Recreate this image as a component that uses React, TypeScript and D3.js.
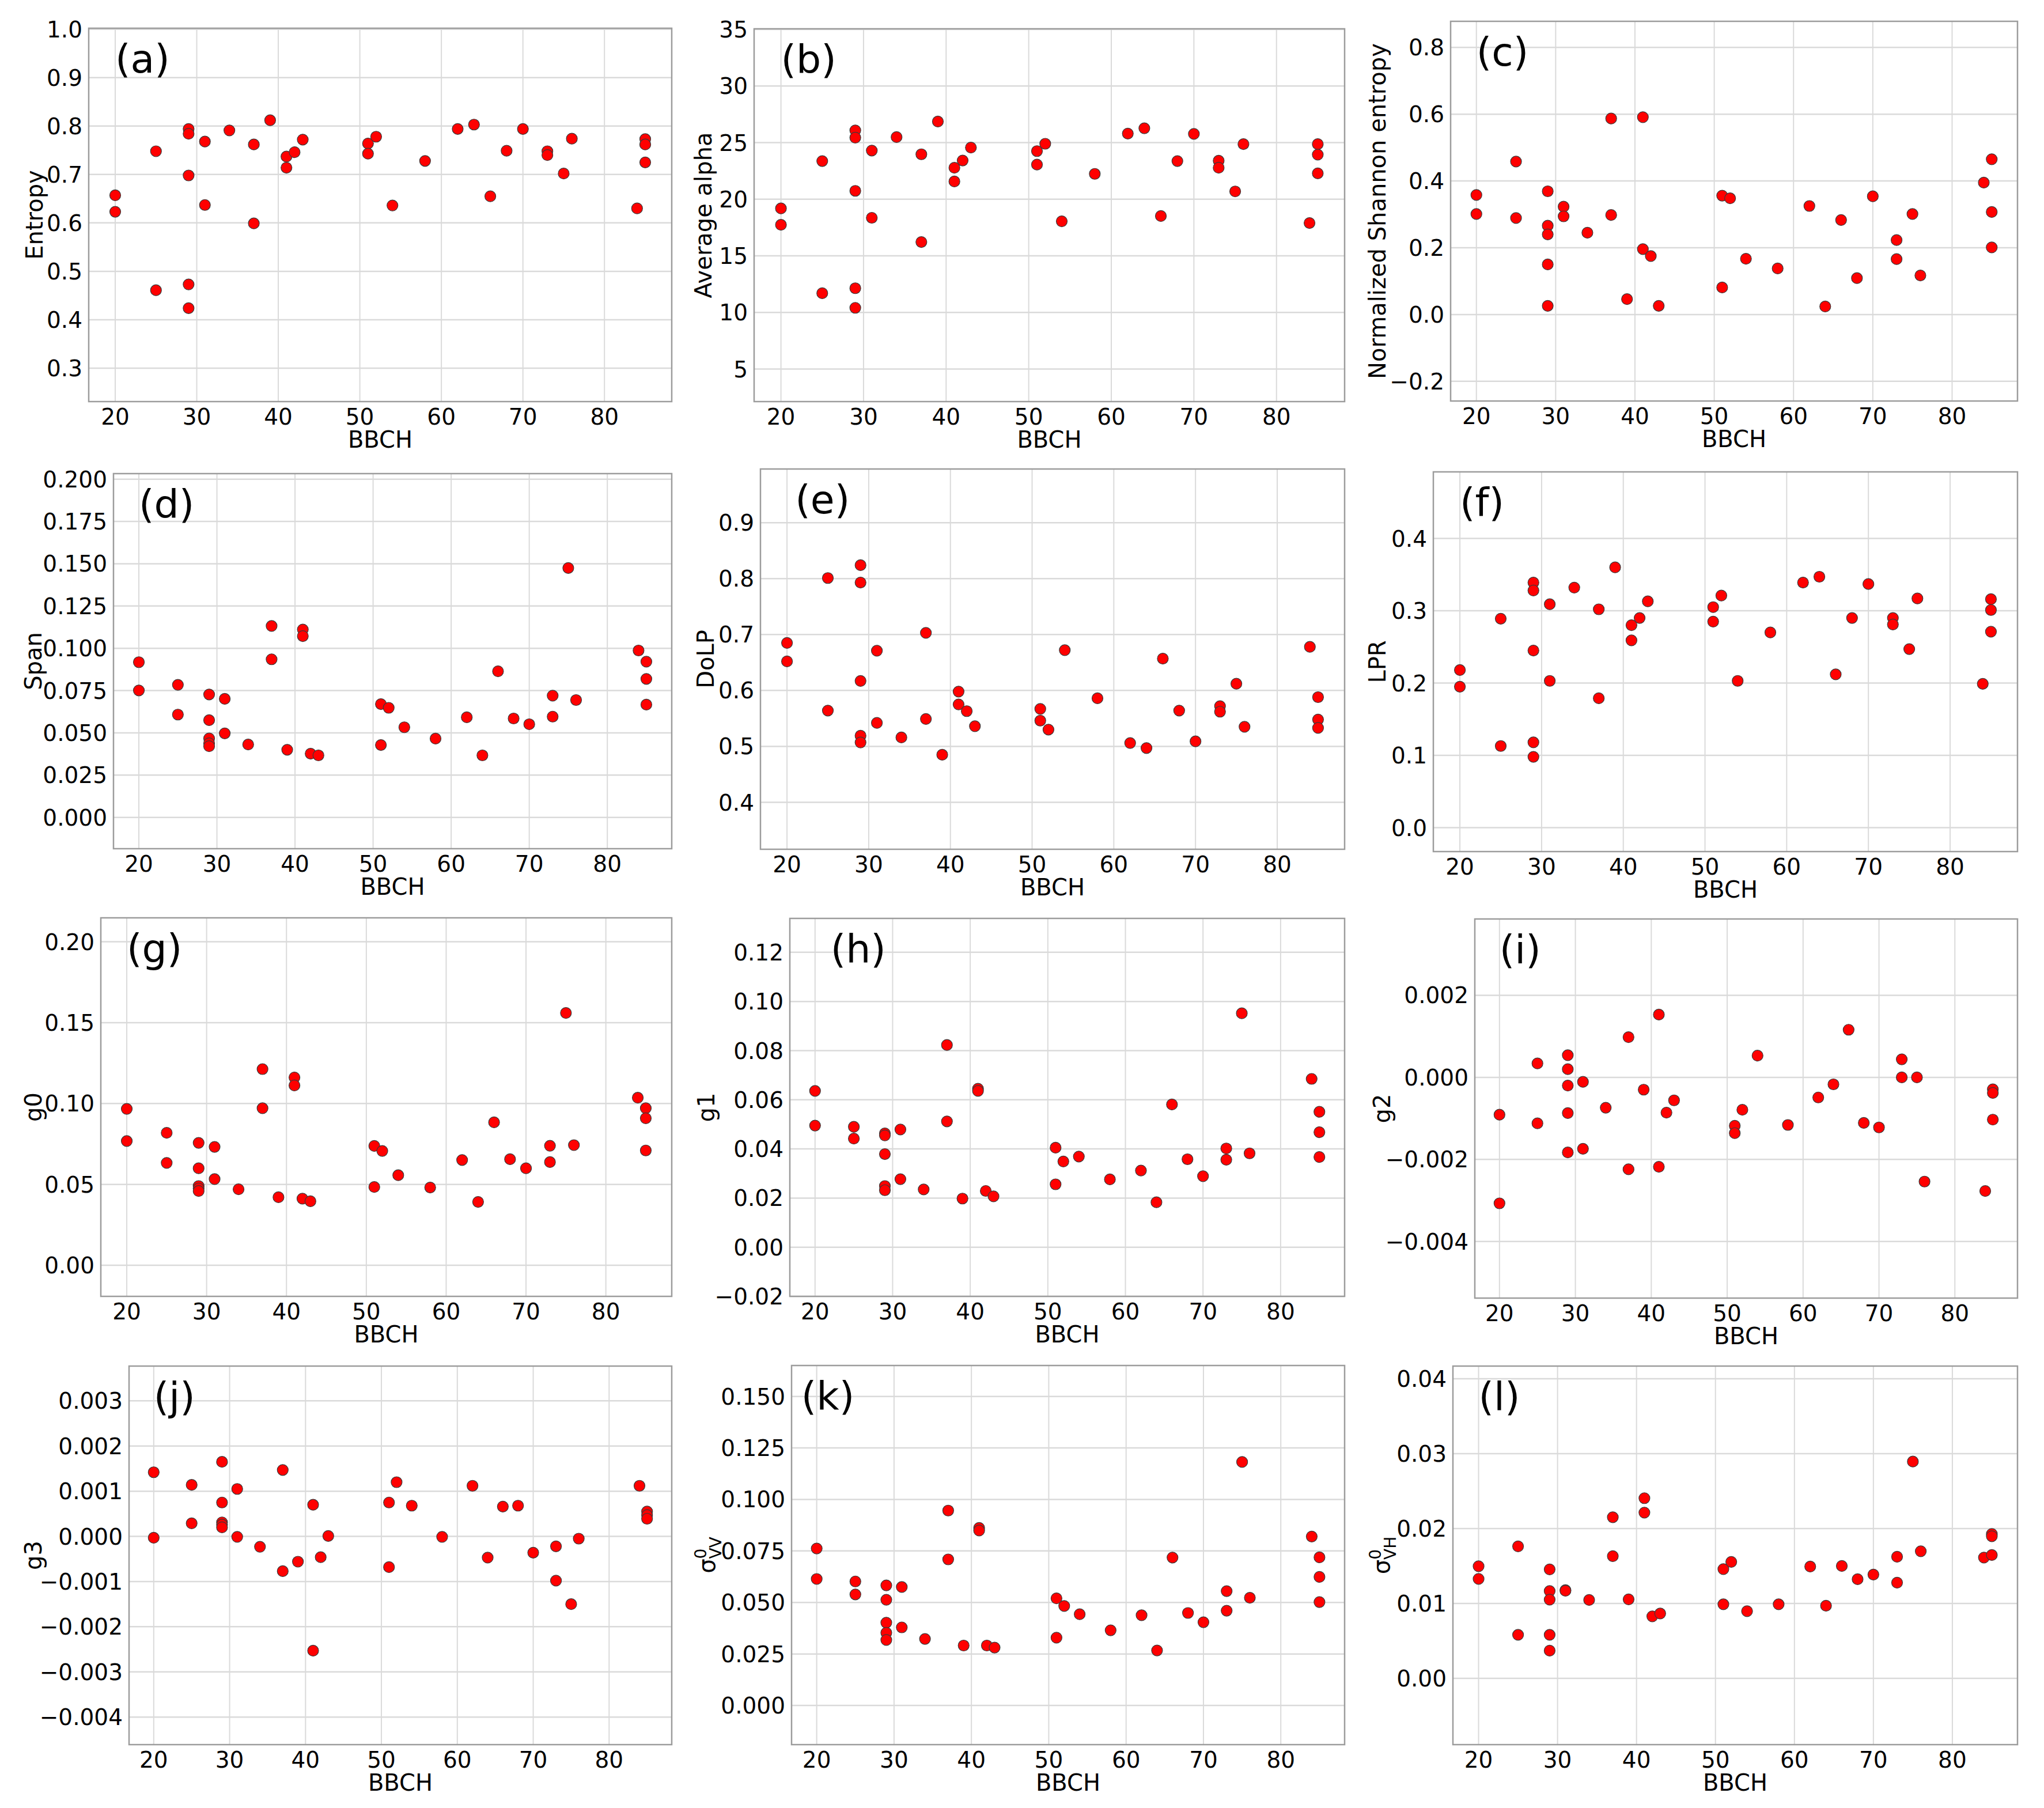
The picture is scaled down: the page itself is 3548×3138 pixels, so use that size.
import React, { useEffect, useRef } from "react";
import * as d3 from "d3";

// BBCH stage of each sample (shared by all panels)
const bbch = [20, 20, 25, 25, 29, 29, 29, 29, 29, 31, 31, 34, 37, 37, 39, 41, 41, 42, 43, 51, 51, 52, 54, 58, 62, 64, 66, 68, 70, 73, 73, 75, 76, 84, 85, 85, 85];

const entropy = [0.657, 0.623, 0.748, 0.461, 0.794, 0.784, 0.698, 0.473, 0.424, 0.768, 0.637, 0.791, 0.762, 0.599, 0.812, 0.737, 0.714, 0.746, 0.772, 0.764, 0.743, 0.778, 0.636, 0.728, 0.794, 0.803, 0.655, 0.749, 0.794, 0.748, 0.74, 0.702, 0.774, 0.63, 0.773, 0.762, 0.725];
const alpha = [19.19, 17.74, 23.37, 11.7, 26.08, 25.44, 20.74, 12.14, 10.41, 24.3, 18.36, 25.49, 23.97, 16.22, 26.86, 22.78, 21.57, 23.42, 24.56, 24.25, 23.06, 24.9, 18.05, 22.24, 25.8, 26.27, 18.52, 23.37, 25.77, 23.4, 22.78, 20.69, 24.87, 17.9, 24.87, 23.94, 22.29];
const shannon = [0.358, 0.301, 0.458, 0.289, 0.369, 0.266, 0.24, 0.15, 0.026, 0.323, 0.294, 0.245, 0.587, 0.298, 0.046, 0.591, 0.196, 0.175, 0.026, 0.356, 0.081, 0.348, 0.167, 0.138, 0.325, 0.024, 0.283, 0.109, 0.354, 0.223, 0.166, 0.301, 0.117, 0.395, 0.465, 0.307, 0.201];
const span = [0.0918, 0.0751, 0.0784, 0.0608, 0.0727, 0.0575, 0.0467, 0.0438, 0.0421, 0.0701, 0.0497, 0.0431, 0.1132, 0.0935, 0.04, 0.1111, 0.1072, 0.0377, 0.0367, 0.067, 0.0428, 0.0648, 0.0533, 0.0466, 0.0592, 0.0367, 0.0864, 0.0585, 0.0551, 0.072, 0.0596, 0.1475, 0.0694, 0.0987, 0.0921, 0.0819, 0.0667];
const dolp = [0.685, 0.652, 0.801, 0.564, 0.824, 0.793, 0.617, 0.519, 0.507, 0.671, 0.542, 0.516, 0.703, 0.549, 0.485, 0.598, 0.575, 0.563, 0.536, 0.567, 0.546, 0.53, 0.672, 0.586, 0.506, 0.497, 0.657, 0.564, 0.509, 0.572, 0.562, 0.612, 0.535, 0.678, 0.588, 0.548, 0.533];
const lpr = [0.218, 0.195, 0.289, 0.113, 0.339, 0.328, 0.245, 0.118, 0.098, 0.309, 0.203, 0.332, 0.302, 0.179, 0.36, 0.28, 0.259, 0.29, 0.313, 0.305, 0.285, 0.321, 0.203, 0.27, 0.339, 0.347, 0.212, 0.29, 0.337, 0.29, 0.281, 0.247, 0.317, 0.199, 0.316, 0.301, 0.271];
const g0 = [0.0967, 0.0768, 0.0819, 0.0633, 0.0757, 0.06, 0.049, 0.0475, 0.0459, 0.0732, 0.0533, 0.047, 0.1213, 0.0971, 0.0421, 0.1161, 0.1112, 0.0412, 0.0396, 0.0738, 0.0484, 0.0707, 0.0557, 0.0481, 0.0651, 0.0392, 0.0884, 0.0656, 0.06, 0.0739, 0.0638, 0.156, 0.0743, 0.1036, 0.0971, 0.0909, 0.071];
const g1 = [0.0636, 0.0495, 0.049, 0.0442, 0.0463, 0.0455, 0.0379, 0.0249, 0.0232, 0.0479, 0.0277, 0.0235, 0.0823, 0.0512, 0.0198, 0.0645, 0.0636, 0.0229, 0.0207, 0.0405, 0.0256, 0.0349, 0.0369, 0.0276, 0.0312, 0.0183, 0.0581, 0.0358, 0.0289, 0.0402, 0.0356, 0.0952, 0.0382, 0.0685, 0.0551, 0.0468, 0.0367];
const g2 = [-0.00091, -0.00307, 0.00034, -0.00112, 0.00054, 0.0002, -0.0002, -0.00087, -0.00183, -0.00011, -0.00174, -0.00074, 0.00098, -0.00224, -0.0003, 0.00153, -0.00218, -0.00086, -0.00056, -0.00118, -0.00136, -0.00079, 0.00053, -0.00116, -0.00049, -0.00017, 0.00116, -0.00111, -0.00122, 0.00044, 0.0, 0.0, -0.00254, -0.00277, -0.00029, -0.00038, -0.00103];
const g3 = [0.00142, -0.00003, 0.00114, 0.00029, 0.00165, 0.00075, 0.00031, 0.00026, 0.0002, 0.00105, -0.00001, -0.00023, 0.00147, -0.00077, -0.00056, 0.0007, -0.00253, -0.00046, 0.00001, 0.00075, -0.00068, 0.0012, 0.00068, -0.00001, 0.00112, -0.00047, 0.00066, 0.00068, -0.00036, -0.00022, -0.00098, -0.0015, -0.00005, 0.00112, 0.00055, 0.00047, 0.00039];
const sigmaVV = [0.0762, 0.0614, 0.0602, 0.0539, 0.0583, 0.0513, 0.0402, 0.0353, 0.0318, 0.0575, 0.0379, 0.0323, 0.0946, 0.0709, 0.0291, 0.0862, 0.0849, 0.0291, 0.0281, 0.052, 0.0329, 0.0483, 0.0443, 0.0365, 0.0438, 0.0267, 0.0718, 0.0449, 0.0404, 0.0555, 0.046, 0.1182, 0.0523, 0.082, 0.0719, 0.0624, 0.0502];
const sigmaVH = [0.01497, 0.01328, 0.01763, 0.00581, 0.01455, 0.01166, 0.01051, 0.00581, 0.0037, 0.01178, 0.0117, 0.01047, 0.02152, 0.01632, 0.01055, 0.02406, 0.02213, 0.00828, 0.00866, 0.01459, 0.00989, 0.01555, 0.00897, 0.00989, 0.01493, 0.0097, 0.01501, 0.01324, 0.01386, 0.01624, 0.01278, 0.02895, 0.01697, 0.01613, 0.01928, 0.01898, 0.01647];

// tick labels
const xTicks = [20, 30, 40, 50, 60, 70, 80];
const entropyTicks = [0.3, 0.4, 0.5, 0.6, 0.7, 0.8, 0.9, 1.0];
const alphaTicks = [5, 10, 15, 20, 25, 30, 35];
const shannonTicks = [-0.2, 0, 0.2, 0.4, 0.6, 0.8];
const spanTicks = [0, 0.025, 0.05, 0.075, 0.1, 0.125, 0.15, 0.175, 0.2];
const dolpTicks = [0.4, 0.5, 0.6, 0.7, 0.8, 0.9];
const lprTicks = [0, 0.1, 0.2, 0.3, 0.4];
const g0Ticks = [0, 0.05, 0.1, 0.15, 0.2];
const g1Ticks = [-0.02, 0, 0.02, 0.04, 0.06, 0.08, 0.1, 0.12];
const g2Ticks = [-0.004, -0.002, 0, 0.002];
const g3Ticks = [-0.004, -0.003, -0.002, -0.001, 0, 0.001, 0.002, 0.003];
const sigmaVVTicks = [0, 0.025, 0.05, 0.075, 0.1, 0.125, 0.15];
const sigmaVHTicks = [0, 0.01, 0.02, 0.03, 0.04];

const W = 3548;
const H = 3138;
const FONT = "'DejaVu Sans', sans-serif";

// box = [left, top, right, bottom] of each axes frame in px
const panels: any[] = [
  { tag: "(a)", ylabel: "Entropy", values: entropy, domain: [0.231, 1.002], ticks: entropyTicks, fmt: ".1f", box: [154, 49, 1166, 697], ylabelX: 60, tagX: 20 },
  { tag: "(b)", ylabel: "Average alpha", values: alpha, domain: [2.13, 35.05], ticks: alphaTicks, fmt: "d", box: [1309, 50, 2334, 697], ylabelX: 1221, tagX: 20 },
  { tag: "(c)", ylabel: "Normalized Shannon entropy", values: shannon, domain: [-0.259, 0.878], ticks: shannonTicks, fmt: ".1f", box: [2518, 37, 3502, 696], ylabelX: 2391, tagX: 20 },
  { tag: "(d)", ylabel: "Span", values: span, domain: [-0.0185, 0.2033], ticks: spanTicks, fmt: ".3f", box: [197, 822, 1166, 1473], ylabelX: 58, tagX: 20 },
  { tag: "(e)", ylabel: "DoLP", values: dolp, domain: [0.316, 0.996], ticks: dolpTicks, fmt: ".1f", box: [1320, 814, 2334, 1474], ylabelX: 1225, tagX: 21 },
  { tag: "(f)", ylabel: "LPR", values: lpr, domain: [-0.033, 0.492], ticks: lprTicks, fmt: ".1f", box: [2488, 819, 3502, 1478], ylabelX: 2391, tagX: 20 },
  { tag: "(g)", ylabel: "g0", values: g0, domain: [-0.0192, 0.2148], ticks: g0Ticks, fmt: ".2f", box: [175, 1593, 1166, 2250], ylabelX: 58, tagX: 20 },
  { tag: "(h)", ylabel: "g1", values: g1, domain: [-0.02, 0.1338], ticks: g1Ticks, fmt: ".2f", box: [1371, 1594, 2334, 2250], ylabelX: 1226, tagX: 22 },
  { tag: "(i)", ylabel: "g2", values: g2, domain: [-0.00538, 0.00386], ticks: g2Ticks, fmt: ".3f", box: [2560, 1595, 3502, 2253], ylabelX: 2399, tagX: 20 },
  { tag: "(j)", ylabel: "g3", values: g3, domain: [-0.00461, 0.00377], ticks: g3Ticks, fmt: ".3f", box: [224, 2371, 1166, 3028], ylabelX: 58, tagX: 20 },
  { tag: "(k)", ylabel: "VV", values: sigmaVV, domain: [-0.019, 0.165], ticks: sigmaVVTicks, fmt: ".3f", box: [1374, 2370, 2334, 3028], ylabelX: 1227, tagX: 18, sigma: true },
  { tag: "(l)", ylabel: "VH", values: sigmaVH, domain: [-0.00885, 0.0417], ticks: sigmaVHTicks, fmt: ".2f", box: [2522, 2371, 3502, 3028], ylabelX: 2398, tagX: 20, sigma: true },
];

const App = () => {
  const ref = useRef(null);

  useEffect(() => {
    const svg = d3.select(ref.current);
    svg.selectAll("*").remove();
    svg.append("rect").attr("width", W).attr("height", H).attr("fill", "#fff");

    panels.forEach((p: any) => {
      const [left, top, right, bottom] = p.box;
      const x = d3.scaleLinear().domain([16.75, 88.25]).range([left, right]);
      const y = d3.scaleLinear().domain(p.domain).range([bottom, top]);
      const fmt = d3.format(p.fmt);
      const g = svg.append("g");

      // grid
      g.selectAll("line.gx")
        .data(xTicks)
        .join("line")
        .attr("class", "gx")
        .attr("x1", (d) => x(d))
        .attr("x2", (d) => x(d))
        .attr("y1", top)
        .attr("y2", bottom)
        .attr("stroke", "#dadada")
        .attr("stroke-width", 2);
      g.selectAll("line.gy")
        .data(p.ticks)
        .join("line")
        .attr("class", "gy")
        .attr("x1", left)
        .attr("x2", right)
        .attr("y1", (d: any) => y(d))
        .attr("y2", (d: any) => y(d))
        .attr("stroke", "#dadada")
        .attr("stroke-width", 2.5);

      // frame
      g.append("rect")
        .attr("x", left)
        .attr("y", top)
        .attr("width", right - left)
        .attr("height", bottom - top)
        .attr("fill", "none")
        .attr("stroke", "#9c9c9c")
        .attr("stroke-width", 2.5);

      // tick labels
      g.selectAll("text.ty")
        .data(p.ticks)
        .join("text")
        .attr("class", "ty")
        .attr("x", left - 11)
        .attr("y", (d: any) => y(d))
        .attr("dy", "0.36em")
        .attr("text-anchor", "end")
        .style("font-family", FONT)
        .style("font-size", "39px")
        .text((d: any) => fmt(d));
      g.selectAll("text.tx")
        .data(xTicks)
        .join("text")
        .attr("class", "tx")
        .attr("x", (d) => x(d))
        .attr("y", bottom + 40)
        .attr("text-anchor", "middle")
        .style("font-family", FONT)
        .style("font-size", "39px")
        .text((d) => d);

      // axis labels
      g.append("text")
        .attr("x", (left + right) / 2)
        .attr("y", bottom + 80)
        .attr("text-anchor", "middle")
        .style("font-family", FONT)
        .style("font-size", "40px")
        .text("BBCH");

      const cy = (top + bottom) / 2;
      const yl = g
        .append("text")
        .attr("transform", `translate(${p.ylabelX},${cy}) rotate(-90)`)
        .attr("text-anchor", "middle")
        .attr("dy", "0.36em")
        .style("font-family", FONT)
        .style("font-size", "40px");
      if (p.sigma) {
        yl.append("tspan").text("σ");
        yl.append("tspan").attr("dy", -15).style("font-size", "28px").text("0");
        yl.append("tspan").attr("dx", -18).attr("dy", 26).style("font-size", "28px").text(p.ylabel);
      } else {
        yl.text(p.ylabel);
      }

      // panel tag
      g.append("text")
        .attr("x", x(p.tagX))
        .attr("y", top + 77)
        .style("font-family", FONT)
        .style("font-size", "68px")
        .text(p.tag);

      // points
      g.selectAll("circle")
        .data(p.values)
        .join("circle")
        .attr("cx", (d: any, i: number) => x(bbch[i]))
        .attr("cy", (d: any) => y(d))
        .attr("r", 9.5)
        .attr("fill", "#ff0000")
        .attr("stroke", "#3a3a3a")
        .attr("stroke-width", 1.2);
    });
  }, []);

  return (
    <svg
      ref={ref}
      width={W}
      height={H}
      viewBox={`0 0 ${W} ${H}`}
      style={{ position: "absolute", left: 0, top: 0, background: "#fff" }}
    ></svg>
  );
};

export default App;
